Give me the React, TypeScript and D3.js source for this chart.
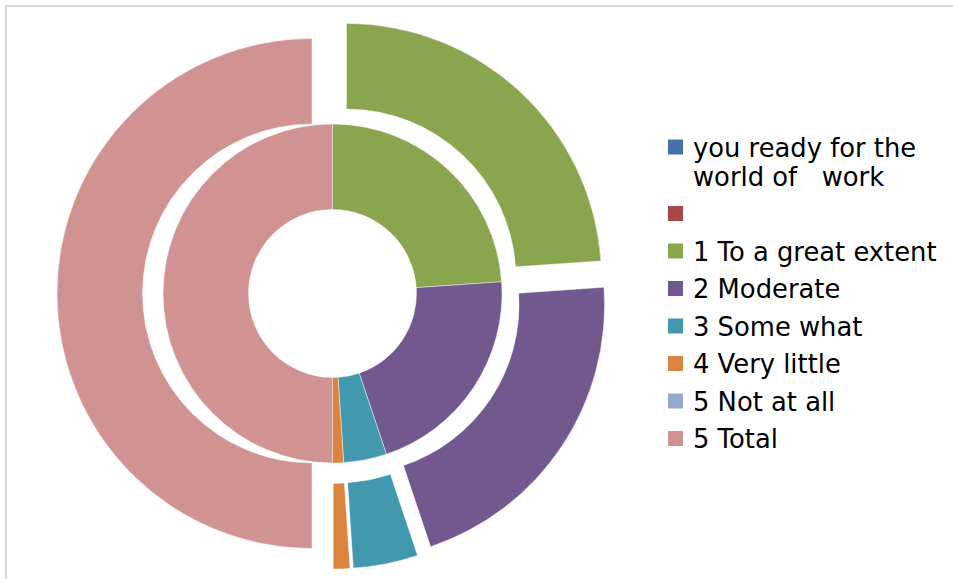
import React from "react";
import * as d3 from "d3";

const categories = [
  "you ready for the\nworld of   work",
  "",
  "1 To a great extent",
  "2 Moderate",
  "3 Some what",
  "4 Very little",
  "5 Not at all",
  "5 Total",
];
const innerValues = [0, 0, 47.8, 41.9, 8.2, 2.1, 0, 100];
const outerValues = [0, 0, 47.8, 41.9, 8.2, 2.1, 0, 100];
const colors = ["#4572A7", "#AA4643", "#89A54E", "#71588F", "#4198AF", "#DB843D", "#93A9CF", "#D19392"];

const W = 953;
const H = 579;
const cx = 332.5;
const cy = 293.5;
const r0 = 84;
const r1 = 169.5;
const r2 = 255;
const explode = 20.5;

export default function App() {
  const pie = d3
    .pie<number>()
    .sort(null)
    .value((d) => d)
    .startAngle(0)
    .endAngle(2 * Math.PI);
  const innerArc = d3.arc<d3.PieArcDatum<number>>().innerRadius(r0).outerRadius(r1);
  const outerArc = d3.arc<d3.PieArcDatum<number>>().innerRadius(r1).outerRadius(r2);
  const innerPie = pie(innerValues);
  const outerPie = pie(outerValues);

  const legendX = 668;
  const textX = 693;
  const fontSize = 25.8;
  const lineH = 29;
  const rowGap = 37.5;
  let y = 147;
  const legendItems: { i: number; y: number; lines: string[] }[] = [];
  categories.forEach((c, i) => {
    const lines = c.split("\n");
    legendItems.push({ i, y, lines });
    y += (lines.length - 1) * lineH + rowGap;
  });

  return (
    <svg
      width={W}
      height={H}
      style={{ position: "absolute", left: 0, top: 0, background: "#fff" }}
    >
      <rect x={0} y={0} width={W} height={H} fill="#fff" />
      <rect x={6} y={6} width={W + 20} height={H + 20} fill="none" stroke="#d9d9d9" strokeWidth={2} />
      <g transform={`translate(${cx},${cy})`}>
        {innerPie.map((d, i) =>
          d.value > 0 ? (
            <path key={"in" + i} d={innerArc(d) || ""} fill={colors[i]} stroke="#fff" strokeWidth={0.6} strokeOpacity={0.7} />
          ) : null
        )}
        {outerPie.map((d, i) => {
          if (d.value <= 0) return null;
          const mid = (d.startAngle + d.endAngle) / 2;
          const dx = Math.sin(mid) * explode;
          const dy = -Math.cos(mid) * explode;
          return (
            <path
              key={"out" + i}
              d={outerArc(d) || ""}
              transform={`translate(${dx},${dy})`}
              fill={colors[i]}
              stroke="#fff"
              strokeWidth={0.6}
              strokeOpacity={0.7}
            />
          );
        })}
      </g>
      <g fontFamily="DejaVu Sans" fontSize={fontSize} fill="#000">
        {legendItems.map((it) => (
          <g key={"lg" + it.i}>
            <rect x={legendX} y={it.y - 7.5} width={15} height={15} fill={colors[it.i]} />
            {it.lines.map((ln, k) =>
              ln ? (
                <text key={k} x={textX} y={it.y + k * lineH + 9.5} style={{ whiteSpace: "pre" }}>
                  {ln}
                </text>
              ) : null
            )}
          </g>
        ))}
      </g>
    </svg>
  );
}
